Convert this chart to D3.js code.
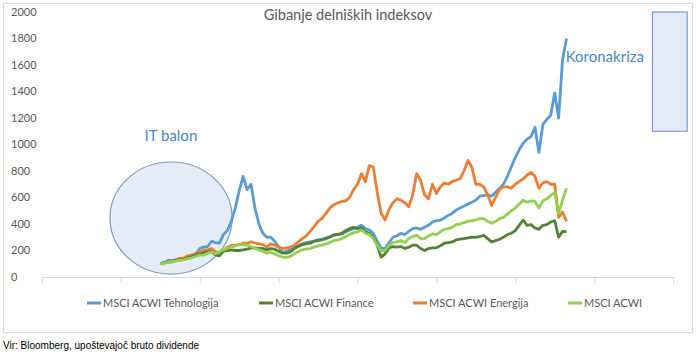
<!DOCTYPE html>
<html>
<head>
<meta charset="utf-8">
<script src="https://cdn.jsdelivr.net/npm/d3@7"></script>
<style>
  body{margin:0;background:#fff;}
  svg text{font-family:Lato,"Open Sans",sans-serif;}
</style>
</head>
<body>
<svg id="chart"></svg>
<script>
// quarterly index values, rebased to 100 at start of 1995
var quarters=d3.range(1995,2020.76,0.25);
var tehnologija=[100,110,125,125,130,140,135,150,165,175,215,225,230,270,260,255,
  320,350,420,520,650,760,660,700,520,400,330,300,300,270,230,185,
  195,205,225,235,250,260,265,270,280,285,295,305,315,320,325,340,
  355,365,375,390,365,355,330,270,220,215,260,300,310,330,320,345,
  365,370,360,375,390,415,425,430,445,465,480,505,520,535,550,565,
  580,610,615,620,610,640,670,700,760,830,900,960,1010,1040,1060,1130,
  940,1150,1190,1220,1390,1200,1640,1800];
var finance=[100,108,115,120,125,130,135,145,155,165,175,180,190,195,165,160,
  195,200,205,200,200,205,210,220,220,215,215,205,215,210,195,180,
  180,190,215,230,245,250,255,270,275,280,290,300,320,320,330,350,
  365,375,365,370,340,330,300,240,150,175,220,230,225,230,215,225,
  240,240,215,200,215,220,220,235,255,260,265,280,285,290,295,300,
  300,305,315,290,265,275,285,300,320,330,350,390,430,390,395,370,
  360,390,395,415,425,300,345,340];
var energija=[100,105,110,115,130,140,145,160,165,175,190,200,205,215,190,185,
  200,225,240,240,245,255,255,265,255,250,245,225,250,240,225,215,
  220,225,240,265,290,310,345,380,420,440,480,520,545,560,570,575,
  600,660,700,780,720,840,830,640,480,430,510,560,590,580,560,530,
  620,780,730,620,590,700,630,680,710,700,720,730,740,800,880,830,
  700,700,680,620,540,600,660,680,680,670,700,720,740,770,790,760,
  670,710,720,700,700,450,490,420];
var acwi=[100,105,112,118,122,128,130,138,145,155,165,165,180,190,175,190,
  205,215,225,235,245,245,240,230,215,205,195,180,185,175,160,150,
  150,155,175,190,205,210,215,225,235,240,250,260,275,280,290,305,
  320,335,340,355,330,320,290,240,195,200,240,260,265,275,260,290,
  305,315,290,290,310,325,320,340,360,365,375,395,400,410,420,425,
  430,440,440,420,405,420,440,450,475,500,520,550,580,565,575,570,
  520,575,590,615,640,480,580,670];
var seriesNames=["MSCI ACWI Tehnologija","MSCI ACWI Finance","MSCI ACWI Energija","MSCI ACWI"];
var seriesColors=["#5b9bd5","#548235","#ed7d31","#92d050"];
var yTicks=[0,200,400,600,800,1000,1200,1400,1600,1800,2000];

var width=696,height=352;
var svg=d3.select("#chart").attr("width",width).attr("height",height);

// outer frame
svg.append("rect")
   .attr("x",3.5).attr("y",3.5)
   .attr("width",689).attr("height",329)
   .attr("fill","#fff").attr("stroke","#d9d9d9");

var xScale=d3.scaleLinear().domain([1987.5,2027.5]).range([42,673]);
var yScale=d3.scaleLinear().domain([0,2000]).range([277,12]);

// y labels (left aligned, no axis line)
svg.append("g").selectAll("text")
   .data(yTicks).enter().append("text")
   .attr("x",11)
   .attr("y",function(d){return yScale(d);})
   .attr("dy","0.35em")
   .attr("font-size",11)
   .attr("fill","#595959")
   .text(function(d){return d;});

var xAxis=d3.axisBottom(xScale)
  .tickValues(d3.range(1987.5,2028,5))
  .tickFormat("")
  .tickSizeInner(6)
  .tickSizeOuter(0);
var gx=svg.append("g")
   .attr("transform","translate(0,277)")
   .call(xAxis);
gx.select(".domain").attr("stroke","#d9d9d9");
gx.selectAll(".tick line").attr("stroke","#d9d9d9");

// IT balon ellipse
svg.append("ellipse")
   .attr("cx",xScale(1995.68))
   .attr("cy",yScale(445))
   .attr("rx",xScale(1995.68+3.87)-xScale(1995.68))
   .attr("ry",yScale(0)-yScale(423))
   .attr("fill","#e4ecf7")
   .attr("stroke","#7b9cc0")
   .attr("stroke-width",1.2);

// Koronakriza box
svg.append("rect")
   .attr("x",xScale(2026.2)).attr("y",yScale(2000))
   .attr("width",xScale(2028.4)-xScale(2026.2))
   .attr("height",yScale(1100)-yScale(2000))
   .attr("fill","#e4ecf7")
   .attr("stroke","#7b9cc0")
   .attr("stroke-width",1.2);

var line=d3.line()
  .x(function(d,i){return xScale(quarters[i]);})
  .y(function(d){return yScale(d);});

var allSeries=[tehnologija,finance,energija,acwi];
// draw order: tech, energy, finance, acwi
[0,2,1,3].forEach(function(k){
  svg.append("path")
     .datum(allSeries[k])
     .attr("d",line)
     .attr("fill","none")
     .attr("stroke",seriesColors[k])
     .attr("stroke-width",2.8)
     .attr("stroke-linejoin","round");
});

// title
svg.append("text")
   .attr("x",348).attr("y",20)
   .attr("text-anchor","middle")
   .attr("font-size",14.5)
   .attr("fill","#595959")
   .text("Gibanje delniških indeksov");

// annotations
svg.append("text")
   .attr("x",xScale(1994.0)).attr("y",yScale(1025))
   .attr("font-size",15)
   .attr("fill","#4a86c5")
   .text("IT balon");
svg.append("text")
   .attr("x",xScale(2020.7)).attr("y",yScale(1625))
   .attr("font-size",15)
   .attr("fill","#4a86c5")
   .text("Koronakriza");

// legend
var legendX=[87,259,413,568];
var legend=svg.append("g").selectAll("g")
   .data(seriesNames).enter().append("g")
   .attr("transform",function(d,i){return "translate("+legendX[i]+",303)";});
legend.append("line")
   .attr("x1",0).attr("x2",14)
   .attr("stroke",function(d,i){return seriesColors[i];})
   .attr("stroke-width",3);
legend.append("text")
   .attr("x",16).attr("dy","0.35em")
   .attr("font-size",11)
   .attr("fill","#595959")
   .text(function(d){return d;});

// source note
svg.append("text")
   .attr("x",3).attr("y",349)
   .style("font-family","'Liberation Sans',Arial,sans-serif")
   .attr("font-size",10)
   .attr("fill","#000")
   .text("Vir: Bloomberg, upoštevajoč bruto dividende");
</script>
</body>
</html>
